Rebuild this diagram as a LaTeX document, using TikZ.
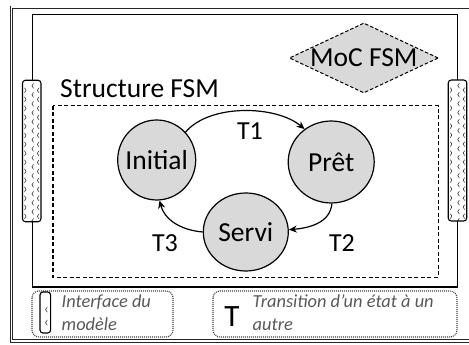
\documentclass[tikz,border=0pt]{standalone}
\usepackage{fontspec}
\setmainfont{Carlito}
\usetikzlibrary{arrows.meta,positioning,shapes.geometric}
\definecolor{grisfond}{RGB}{217,217,217}
\definecolor{gristexte}{RGB}{89,89,89}
\tikzset{
	cadre/.style={draw=black!85,line width=0.9pt,double,double distance=1.4pt},
	modele/.style={draw,line width=1.2pt},
	structure/.style={draw,line width=1.1pt,dash pattern=on 4pt off 2.5pt},
	etat/.style={draw,ellipse,fill=grisfond,line width=1.2pt,inner sep=-6pt,font=\fontsize{27.5}{30}\selectfont},
	moc/.style={draw,diamond,fill=grisfond,line width=1pt,dash pattern=on 3.5pt off 2pt,aspect=2.13,inner sep=0pt,text height=17.7pt,text depth=0pt,minimum width=149pt,minimum height=70pt,font=\fontsize{27.5}{30}\selectfont},
	titre/.style={inner sep=0pt,font=\fontsize{27.5}{30}\selectfont},
	etiq/.style={inner sep=0pt,font=\fontsize{26}{30}\selectfont},
	trans/.style={line width=1.2pt,-{Stealth[length=8pt,width=7pt]}},
	chev/.style={line width=0.6pt,draw=black!80},
	interface/.style={draw,line width=1.1pt,rounded corners=3pt,fill=white,inner sep=0pt,minimum width=18.5pt},
	motif large/.style={path picture={
		\foreach \k in {0,...,15}{
			\draw[chev] ([xshift=1.2pt,yshift=-4pt-\k*9pt]path picture bounding box.north) -- ++(-2.4,-1.6) -- ++(2.4,-1.6);
			\draw[chev] ([xshift=-6.5pt,yshift=-8.5pt-\k*9pt]path picture bounding box.north) -- ++(2.2,-1.6) -- ++(-2.2,-1.6);
			\draw[chev] ([xshift=6.5pt,yshift=-8.5pt-\k*9pt]path picture bounding box.north) -- ++(-2.2,-1.6) -- ++(2.2,-1.6);
		}}},
	motif etroit/.style={path picture={
		\foreach \k in {0,1}{
			\draw[chev] ([xshift=1.2pt,yshift=-16pt-\k*13pt]path picture bounding box.north) -- ++(-2.4,-1.6) -- ++(2.4,-1.6);
		}}},
	legende/.style={draw=black!75,line width=1.1pt,dash pattern=on 1pt off 1pt,rounded corners=7pt},
	legtexte/.style={inner sep=0pt,align=left,text=gristexte,font=\fontsize{18.4}{23}\selectfont\itshape}
}
\begin{document}
\begin{tikzpicture}[x=1pt,y=1pt]
	\clip (0,0) rectangle (469,345);
	\draw[cadre] (11.7,337.8) rectangle (485,4);
	\draw[modele] (32.7,330.5) rectangle (457.7,58);
	\node[interface,motif large,minimum height=141.5pt] (ifg) at (31.7,194) {};
	\node[interface,motif large,minimum height=141pt] (ifd) at (457.5,194.5) {};
	\node[moc] (moc) at (363.8,287) {MoC FSM};
	\node[titre,anchor=base west] (struct) at (60,247) {Structure FSM};
	\draw[structure] (53,239.2) rectangle (438.2,67.5);

	\node[etat,minimum width=78pt,minimum height=80pt] (ini) at (156.7,185) {Initial};
	\node[etat,minimum width=86pt,minimum height=82pt] (pret) at (331.2,183) {Prêt};
	\node[etat,minimum width=85pt,minimum height=78pt] (servi) at (245.8,113) {Servi};

	\draw[trans] (ini.44) to[out=50,in=140,looseness=0.8] (pret.129);
	\draw[trans] (pret.-89) to[out=-95,in=5] (servi.3);
	\draw[trans] (servi.180) to[out=175,in=-75] (ini.-86);
	\node[etiq] (t1) at (250,214) {T1};
	\node[etiq] (t2) at (342,102) {T2};
	\node[etiq] (t3) at (165,102) {T3};

	\draw[legende] (32,54) rectangle (173,8);
	\node[interface,motif etroit,minimum width=10.7pt,minimum height=41pt] (ifleg) at (45.3,32.5) {};
	\node[legtexte,anchor=north west] (legif) at (61.5,50) {Interface du\\modèle};
	\draw[legende] (213,54) rectangle (457,8);
	\node[inner sep=0pt,font=\fontsize{31}{34}\selectfont] (legt) at (232,28) {T};
	\node[legtexte,anchor=north west] (legtr) at (252.5,50) {Transition d’un état à un\\autre};
\end{tikzpicture}
\end{document}
